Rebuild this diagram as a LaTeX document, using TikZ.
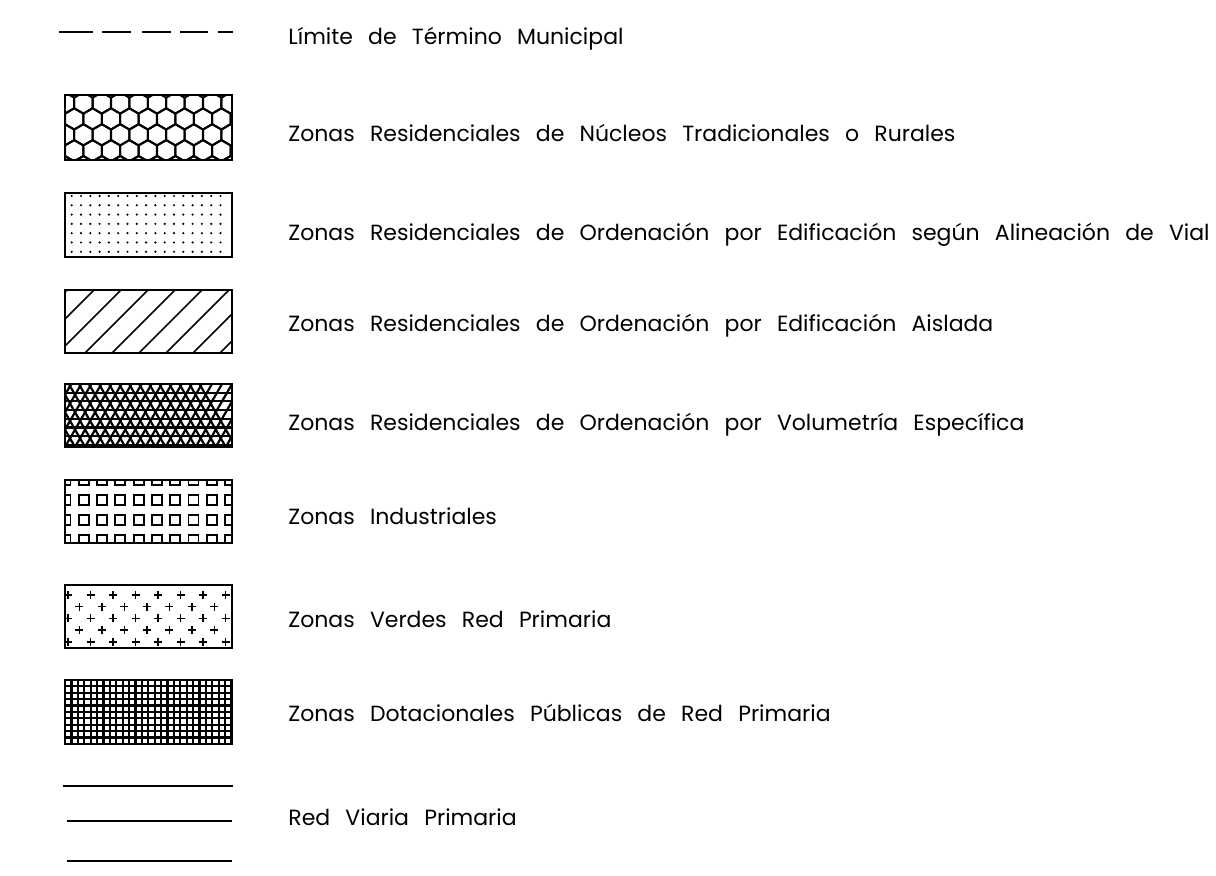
\documentclass[tikz,border=0pt]{standalone}
\usepackage{fontspec}
\newfontfamily\cadfont{Poppins}
\newcommand{\cadtexto}{\cadfont\fontsize{11}{13}\selectfont\spaceskip=7.6pt\relax}
\usepackage{tikz}
\usetikzlibrary{calc}
\usetikzlibrary{positioning}

\tikzset{
  leyenda/.style={anchor=base west,inner sep=0pt,font=\cadtexto},
  caja/.style={draw,line width=1pt},
  trama/.style={line width=0.8pt}
}

\begin{document}
\begin{tikzpicture}[x=0.5pt,y=-0.5pt]
      \useasboundingbox (0,0) rectangle (1216,876);

      % limite de termino
      \draw[line width=0.9pt] (59,32) -- (93,32) (102,32) -- (131,32) (142,32) -- (171,32)
        (180,32) -- (208,32) (218,32) -- (233,32);
      \node[leyenda] (limite) at (288,45) {Límite de Término Municipal};

      % nucleos tradicionales
      \begin{scope}
        \clip (65,95) rectangle (232,160);
        \foreach \j in {0,...,4}{
          \foreach \i in {-1,...,9}{
            \pgfmathsetmacro{\cx}{65+18.4*\i+9.2*mod(\j,2)}
            \pgfmathsetmacro{\cy}{95+8+15.9*\j}
            \draw[trama,line width=1pt,shift={(\cx,\cy)}] (30:10.6) -- (90:10.6) -- (150:10.6)
              -- (210:10.6) -- (270:10.6) -- (330:10.6) -- cycle;
          }
        }
      \end{scope}
      \draw[caja] (65,95) rectangle (232,160);
      \node[leyenda] (nucleos) at (288,142) {Zonas Residenciales de Núcleos Tradicionales o Rurales};

      % alineacion de vial
      \begin{scope}
        \clip (65,193) rectangle (232,257);
        \foreach \j in {0,...,6}{
          \foreach \i in {0,...,17}{
            \fill (71.7+9.3*\i-9.3,196+9.3*\j) circle (1.2);
          }
        }
      \end{scope}
      \draw[caja] (65,193) rectangle (232,257);
      \node[leyenda] (vial) at (288,241) {Zonas Residenciales de Ordenación por Edificación según Alineación de Vial};

      % edificacion aislada
      \begin{scope}
        \clip (65,290) rectangle (232,353);
        \foreach \k in {-3,...,6}{
          \draw[trama] (85+27*\k,353) -- (85+27*\k+63,290);
        }
      \end{scope}
      \draw[caja] (65,290) rectangle (232,353);
      \node[leyenda] (aislada) at (288,332) {Zonas Residenciales de Ordenación por Edificación Aislada};

      % volumetria especifica
      \begin{scope}
        \clip (65,384) rectangle (232,447);
        \foreach \j in {0,...,7}{
          \draw[trama,line width=1.1pt] (65,384+8.7*\j) -- (232,384+8.7*\j);
        }
        \foreach \k in {-4,...,17}{
          \draw[trama,line width=1.1pt] (65+10.05*\k,447) -- (65+10.05*\k+36.4,384);
          \draw[trama,line width=1.1pt] (65+10.05*\k,447) -- (65+10.05*\k-36.4,384);
        }
      \end{scope}
      \draw[caja] (65,384) rectangle (232,447);
      \node[leyenda] (volumetria) at (288,431) {Zonas Residenciales de Ordenación por Volumetría Específica};

      % industriales
      \begin{scope}
        \clip (65,480) rectangle (232,543);
        \foreach \j in {0,...,3}{
          \foreach \i in {0,...,9}{
            \draw[trama,line width=0.9pt] (65.4+18.3*\i-5,480+20*\j-5) rectangle ++(10,10);
          }
        }
      \end{scope}
      \draw[caja] (65,480) rectangle (232,543);
      \node[leyenda] (industriales) at (288,525) {Zonas Industriales};

      % verdes
      \begin{scope}
        \clip (65,585) rectangle (232,648);
        \foreach \j in {0,2,4}{
          \foreach \i in {0,...,7}{
            \draw[trama] (68+22.5*\i-4,595+11.7*\j) -- ++(8,0) (68+22.5*\i,595+11.7*\j-4) -- ++(0,8);
          }
        }
        \foreach \j in {1,3}{
          \foreach \i in {0,...,6}{
            \draw[trama] (79.3+22.5*\i-4,595+11.7*\j) -- ++(8,0) (79.3+22.5*\i,595+11.7*\j-4) -- ++(0,8);
          }
        }
      \end{scope}
      \draw[caja] (65,585) rectangle (232,648);
      \node[leyenda] (verdes) at (288,628) {Zonas Verdes Red Primaria};

      % dotacionales
      \begin{scope}
        \clip (65,680) rectangle (232,744);
        \foreach \i in {0,...,26}{
          \draw[line width=1.1pt] (65+6.4*\i,680) -- (65+6.4*\i,744);
        }
        \foreach \j in {0,...,10}{
          \draw[line width=1.1pt] (65,680+6.4*\j) -- (232,680+6.4*\j);
        }
      \end{scope}
      \draw[caja] (65,680) rectangle (232,744);
      \node[leyenda] (dotacionales) at (288,722) {Zonas Dotacionales Públicas de Red Primaria};

      % red viaria
      \draw[line width=0.9pt] (63,786) -- (233,786);
      \draw[line width=1.2pt] (67,821) -- (232,821);
      \draw[line width=0.9pt] (67,861) -- (232,861);
      \node[leyenda] (viaria) at (288,826) {Red Viaria Primaria};
\end{tikzpicture}
\end{document}
